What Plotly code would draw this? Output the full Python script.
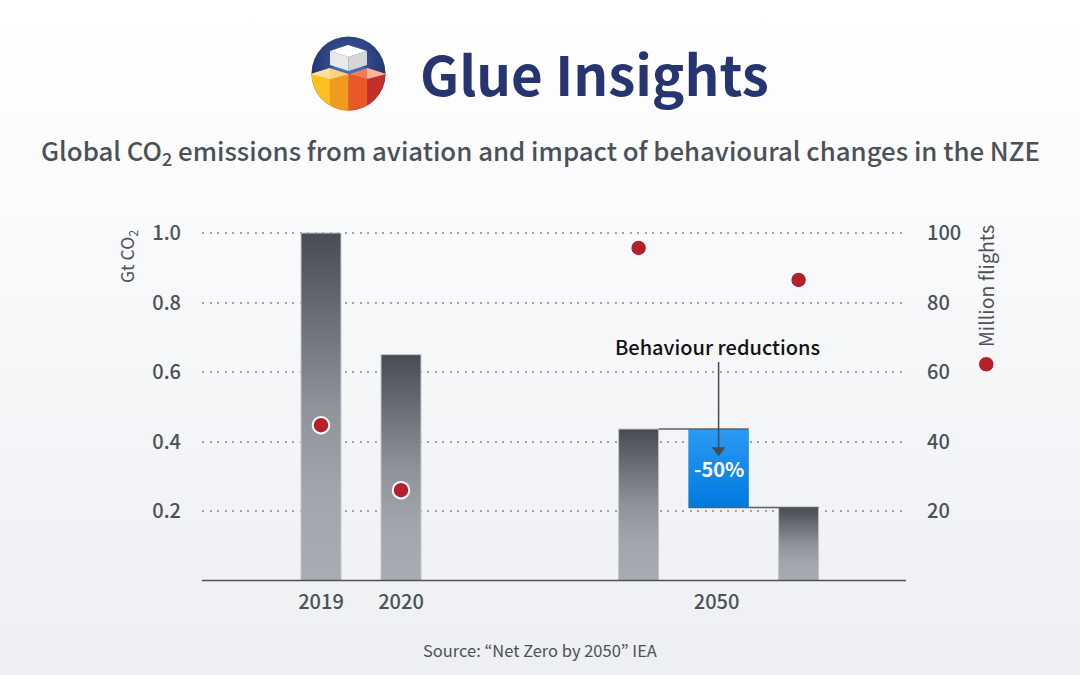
import base64
import plotly.graph_objects as go

FONT = "Noto Sans CJK KR"
TEXT = "#4b5158"

# slots on the x axis, 1 unit = one bar step
bar_x = [0, 1, 3.97, 5.97]
bar_tops = [1.0, 0.65, 0.436, 0.21]
blue_x = [4.97]
blue_top = [0.436]
blue_bottom = [0.21]
flights = [44.7, 26, 95.7, 86.5]
arrow_y = [0.629, 0.375]
x_ticks = [0, 1, 4.945]
x_labels = ["2019", "2020", "2050"]
y_ticks = [0.2, 0.4, 0.6, 0.8, 1.0]
y2_ticks = [20, 40, 60, 80, 100]


def rect(x, w, y0, y1):
    return [x - w / 2, x + w / 2, x + w / 2, x - w / 2, x - w / 2], [y0, y0, y1, y1, y0]


def px_x(v):
    return v / 1080


def px_y(v):
    return 1 - v / 675


def label(text, x, y, size, color=TEXT, weight=400, angle=0):
    return dict(text=text, xref="paper", yref="paper", x=px_x(x), y=px_y(y), xanchor="center", yanchor="middle",
                showarrow=False, textangle=angle, font=dict(size=size, color=color, weight=weight))


background = """<svg xmlns='http://www.w3.org/2000/svg' width='1080' height='675'>
<defs><linearGradient id='g' x1='0' y1='0' x2='0' y2='1'>
<stop offset='0' stop-color='#ffffff'/><stop offset='0.15' stop-color='#fdfdfe'/>
<stop offset='1' stop-color='#edeff2'/></linearGradient></defs>
<rect width='1080' height='675' fill='url(#g)'/></svg>"""

logo = """<svg xmlns='http://www.w3.org/2000/svg' viewBox='0 0 75 75' width='300' height='300'>
<defs><clipPath id='c'><circle cx='37.5' cy='37.5' r='37'/></clipPath>
<radialGradient id='n' cx='0.5' cy='0.35' r='0.5'><stop offset='0' stop-color='#3f5fa8'/>
<stop offset='1' stop-color='#24366f'/></radialGradient></defs>
<g clip-path='url(#c)'>
<rect width='75' height='75' fill='url(#n)'/>
<polygon points='0,38 19,32 37.5,38 37.5,75 0,75' fill='#fdc01f'/>
<polygon points='19,43 37.5,38 37.5,75 19,75' fill='#f09a22'/>
<polygon points='37.5,38 56,43 56,75 37.5,75' fill='#ea5827'/>
<polygon points='56,43 75,38 75,75 56,75' fill='#c42f27'/>
<polygon points='0,38 19,32 37.5,38 19,43' fill='#fde0a6'/>
<polygon points='19,32 30,34 37.5,38 19,43' fill='#fdd27c'/>
<polygon points='37.5,38 56,32 75,38 56,43' fill='#f47b50'/>
<polygon points='56,32 75,38 56,43' fill='#fcb49a'/>
<polygon points='18,32 37.5,38 57,32 37.5,27' fill='#3f6fc0'/>
<polygon points='19,15 37,9 56,15 37.5,21' fill='#ffffff'/>
<polygon points='19,15 37.5,21 37.5,35 19,29' fill='#e9e9e9'/>
<polygon points='37.5,21 56,15 56,29 37.5,35' fill='#d6d6d4'/>
</g></svg>"""


def svg_uri(s):
    return "data:image/svg+xml;base64," + base64.b64encode(s.encode()).decode()


fig = go.Figure()

fig.add_trace(go.Bar(x=bar_x, y=bar_tops, width=0.5, marker_color="#a3a6ad", marker_line_width=0))
fig.add_trace(go.Bar(x=blue_x, y=[t - b for t, b in zip(blue_top, blue_bottom)], base=blue_bottom,
                     width=0.75, marker_color="#0a84e6", marker_line_width=0))

# plotly bars have no gradient fill, so paint it over them
for x, top in zip(bar_x, bar_tops):
    xs, ys = rect(x, 0.5, 0, top)
    fig.add_trace(go.Scatter(x=xs, y=ys, mode="lines", line=dict(color="#c4c7cc", width=1), fill="toself",
                             fillgradient=dict(type="vertical",
                                               colorscale=[[0, "#a8abb2"], [0.25, "#a2a5ac"], [0.5, "#8f9299"],
                                                           [1, "#474c52"]])))
xs, ys = rect(blue_x[0], 0.75, blue_bottom[0], blue_top[0])
fig.add_trace(go.Scatter(x=xs, y=ys, mode="lines", line_width=0, fill="toself",
                         fillgradient=dict(type="vertical", colorscale=[[0, "#0079de"], [1, "#2b9af3"]])))

# connectors between the waterfall steps
fig.add_trace(go.Scatter(x=[bar_x[2] + 0.25, blue_x[0] + 0.375], y=[blue_top[0], blue_top[0]], mode="lines",
                         line=dict(color="#5c6168", width=1.5)))
fig.add_trace(go.Scatter(x=[blue_x[0] - 0.375, bar_x[3] + 0.25], y=[blue_bottom[0], blue_bottom[0]], mode="lines",
                         line=dict(color="#5c6168", width=1.5)))

# arrow from the label down into the blue step
fig.add_trace(go.Scatter(x=blue_x * 2, y=arrow_y, mode="lines", line=dict(color="#474c52", width=1.5)))
fig.add_trace(go.Scatter(x=blue_x, y=arrow_y[1:], mode="markers",
                         marker=dict(symbol="triangle-down", size=12, color="#474c52")))

fig.add_trace(go.Scatter(x=bar_x, y=flights, yaxis="y2", mode="markers",
                         marker=dict(color="#b5202c", size=16.5, line=dict(color="white", width=2))))

tick_font = dict(size=20, weight=500)

fig.update_layout(
    width=1080, height=675,
    margin=dict(l=0, r=0, t=0, b=0),
    paper_bgcolor="rgba(0,0,0,0)",
    plot_bgcolor="rgba(0,0,0,0)",
    showlegend=False,
    barmode="overlay",
    font=dict(family=FONT, color=TEXT),
    xaxis=dict(domain=[px_x(202), px_x(906)], range=[-1.4875, 7.3125], tickvals=x_ticks, ticktext=x_labels,
               showgrid=False, zeroline=False, showline=False, ticks="", ticklabelstandoff=7,
               tickfont=tick_font),
    yaxis=dict(domain=[px_y(580.5), 1], range=[0, 580.5 / 347.5], tickvals=y_ticks, tickformat=".1f",
               showgrid=True, gridcolor="#a0a4a9", griddash="2px,5.5px", gridwidth=1.5, zeroline=False,
               ticks="", tickfont=tick_font, ticklabelstandoff=20),
    yaxis2=dict(overlaying="y", side="right", range=[0, 580.5 / 3.475], tickvals=y2_ticks,
                showgrid=False, zeroline=False, ticks="", tickfont=tick_font,
                ticklabelstandoff=20, anchor="x"),
    images=[
        dict(source=svg_uri(background), xref="paper", yref="paper", x=0, y=1, sizex=1, sizey=1,
             xanchor="left", yanchor="top", sizing="stretch", layer="below"),
        dict(source=svg_uri(logo), xref="paper", yref="paper", x=px_x(311), y=px_y(36), sizex=75 / 1080,
             sizey=75 / 675, xanchor="left", yanchor="top", sizing="stretch", layer="below"),
    ],
    shapes=[
        dict(type="line", xref="paper", yref="paper", x0=px_x(202), x1=px_x(906), y0=px_y(580.5), y1=px_y(580.5),
             line=dict(color="#4b5158", width=1.5)),
        dict(type="circle", xref="paper", yref="paper", x0=px_x(978.5), x1=px_x(994), y0=px_y(356.5), y1=px_y(372),
             fillcolor="#b5202c", line=dict(color="white", width=1)),
    ],
    annotations=[
        label("Glue Insights", 594, 72, 54.6, "#26356f", 700),
        label("Global CO<sub>2</sub> emissions from aviation and impact of behavioural changes in the NZE",
              540, 151, 25.8, TEXT, 500),
        label("Gt CO<sub>2</sub>", 128, 257, 17.5, angle=-90),
        label("Million flights", 985, 286, 19.5, angle=-90),
        label("Behaviour reductions", 717, 346, 20, "#111111", 500),
        dict(text="-50%", x=blue_x[0], y=(blue_top[0] + blue_bottom[0]) / 2, showarrow=False,
             font=dict(size=20, color="white", weight=700)),
        label("Source: “Net Zero by 2050” IEA", 540, 650, 16.5),
    ],
)

fig.write_html("out.html", config=dict(displayModeBar=False), post_script="document.body.style.margin='0';")
